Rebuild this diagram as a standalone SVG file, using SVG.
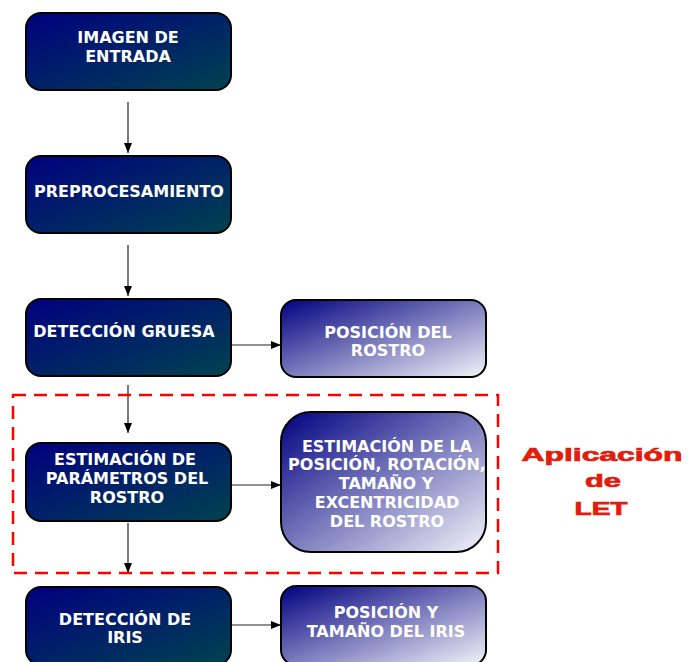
<svg xmlns="http://www.w3.org/2000/svg" width="688" height="662" viewBox="0 0 688 662">
<defs>
<linearGradient id="gDark" x1="0" y1="0" x2="1" y2="1">
<stop offset="0" stop-color="#00007f"/>
<stop offset="1" stop-color="#00434f"/>
</linearGradient>
<linearGradient id="gLight" x1="0" y1="0" x2="1" y2="1">
<stop offset="0" stop-color="#000080"/>
<stop offset="1" stop-color="#f4f4fa"/>
</linearGradient>
<marker id="arr" markerWidth="10" markerHeight="8" refX="10" refY="4" orient="auto" markerUnits="userSpaceOnUse">
<path d="M0,0 L10,4 L0,8 Z" fill="#000"/>
</marker>
</defs>
<style>
.bd{fill:url(#gDark);stroke:#000;stroke-width:2}
.bl{fill:url(#gLight);stroke:#000;stroke-width:2}
.t{font-family:"DejaVu Sans",sans-serif;font-weight:bold;font-size:16px;fill:#fff;text-anchor:middle}
.c{fill:none;stroke:#222;stroke-width:1.2;marker-end:url(#arr)}
.let{font-family:"Liberation Sans",Arial,sans-serif;font-weight:bold;font-size:18px;fill:#e21d0e;stroke:#e21d0e;stroke-width:0.7;text-anchor:middle}
</style>
<rect width="688" height="662" fill="#fff"/>
<g id="connectors">
<line class="c" x1="128" y1="102" x2="128" y2="153"/>
<line class="c" x1="128" y1="245" x2="128" y2="296"/>
<line class="c" x1="128" y1="385" x2="128" y2="433"/>
<line class="c" x1="128" y1="523" x2="128" y2="573"/>
<line class="c" x1="231" y1="345" x2="281" y2="345"/>
<line class="c" x1="231" y1="485" x2="281" y2="485"/>
<line class="c" x1="231" y1="625" x2="281" y2="625"/>
</g>
<g id="n1"><rect class="bd" x="26" y="13" width="205" height="77" rx="15"/><text class="t" x="128" y="43">IMAGEN DE</text><text class="t" x="128" y="62">ENTRADA</text></g>
<g id="n2"><rect class="bd" x="26" y="156" width="205" height="77" rx="15"/><text class="t" x="129" y="197">PREPROCESAMIENTO</text></g>
<g id="n3"><rect class="bd" x="26" y="299" width="205" height="77" rx="15"/><text class="t" x="124" y="337">DETECCIÓN GRUESA</text></g>
<g id="n4"><rect class="bd" x="26" y="443" width="205" height="78" rx="15"/><text class="t" x="125" y="465">ESTIMACIÓN DE</text><text class="t" x="127" y="484">PARÁMETROS DEL</text><text class="t" x="127" y="503">ROSTRO</text></g>
<g id="n5"><rect class="bd" x="26" y="587" width="205" height="78" rx="15"/><text class="t" x="125" y="625">DETECCIÓN DE</text><text class="t" x="125" y="643">IRIS</text></g>
<g id="r1"><rect class="bl" x="281" y="300" width="205" height="77" rx="15"/><text class="t" x="388" y="338">POSICIÓN DEL</text><text class="t" x="388" y="356">ROSTRO</text></g>
<g id="r2"><rect class="bl" x="281" y="412" width="205" height="140" rx="30"/><text class="t" x="387" y="452">ESTIMACIÓN DE LA</text><text class="t" x="387" y="470">POSICIÓN, ROTACIÓN,</text><text class="t" x="386" y="489">TAMAÑO Y</text><text class="t" x="387" y="508">EXCENTRICIDAD</text><text class="t" x="387" y="527">DEL ROSTRO</text></g>
<g id="r3"><rect class="bl" x="281" y="586" width="205" height="79" rx="15"/><text class="t" x="386" y="618">POSICIÓN Y</text><text class="t" x="386" y="637">TAMAÑO DEL IRIS</text></g>
<g id="group">
<rect x="13" y="395" width="485" height="178" fill="none" stroke="#ff0000" stroke-width="2.5" stroke-dasharray="13,8"/>
<text class="let" x="602" y="461" textLength="161" lengthAdjust="spacingAndGlyphs">Aplicación</text>
<text class="let" x="603" y="487" textLength="36" lengthAdjust="spacingAndGlyphs">de</text>
<text class="let" x="601" y="515" textLength="53" lengthAdjust="spacingAndGlyphs">LET</text>
</g>
</svg>
